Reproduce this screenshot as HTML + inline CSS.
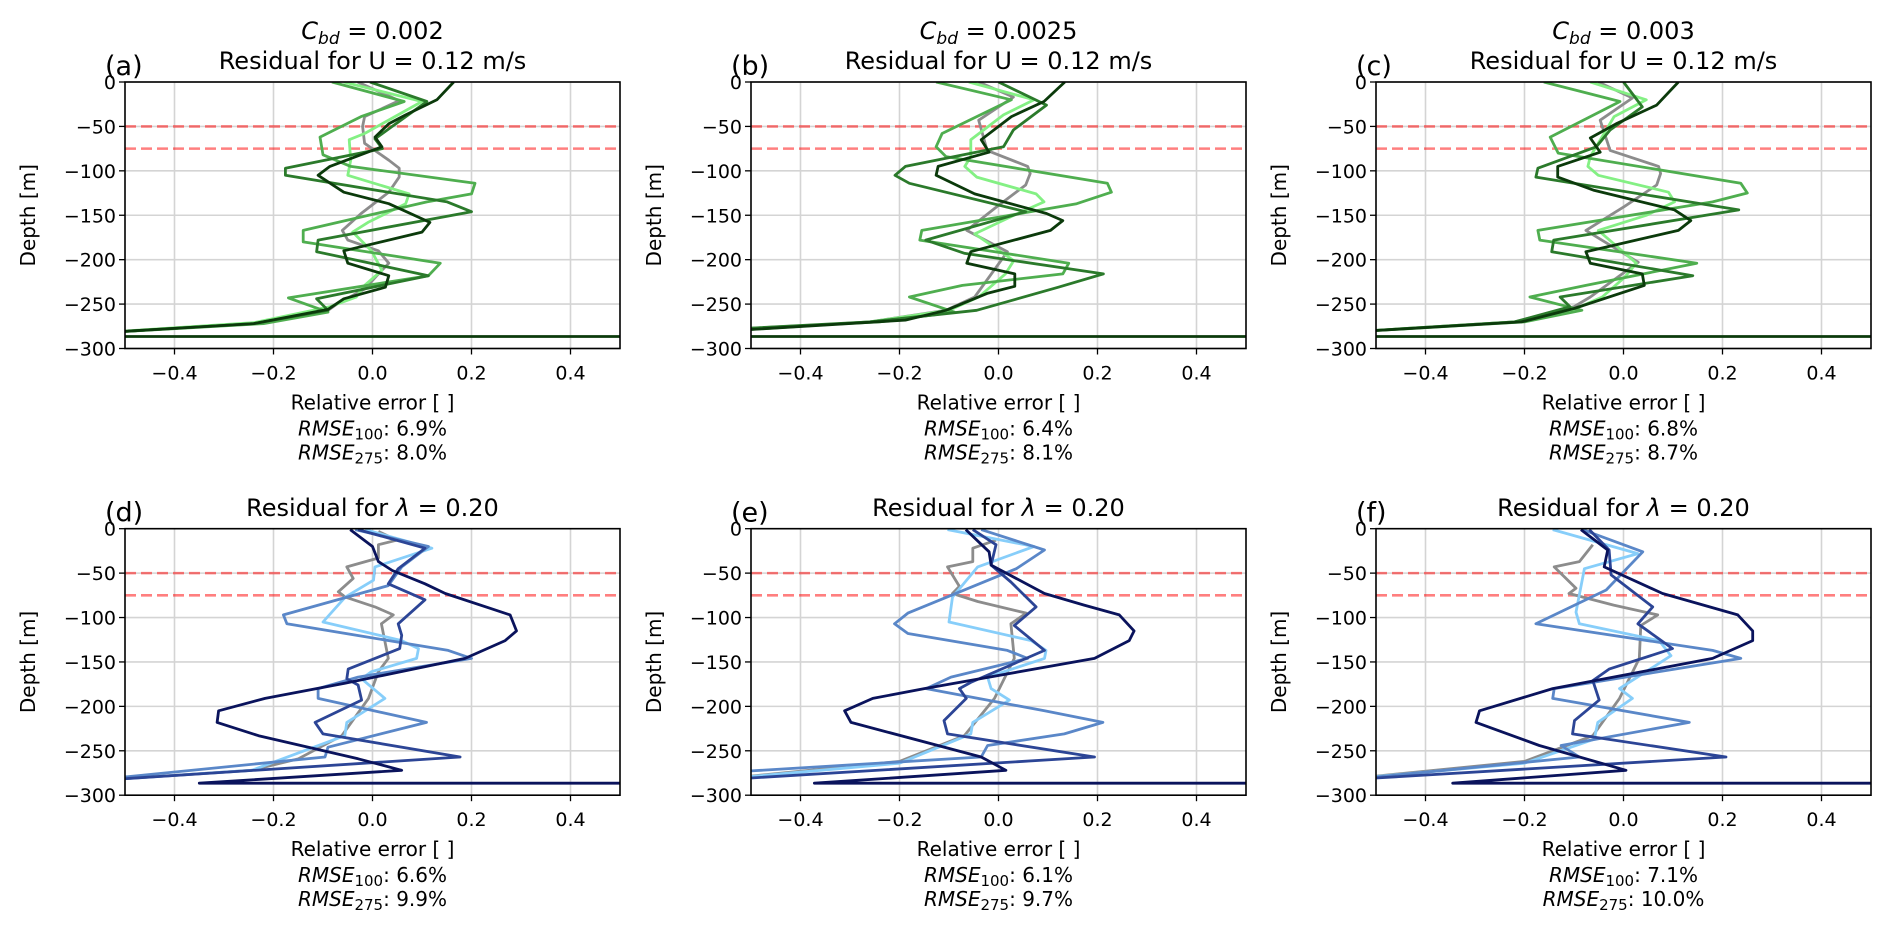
<!DOCTYPE html>
<html><head><meta charset="utf-8">
<style>
html,body{margin:0;padding:0;background:#fff;}
svg{display:block;font-family:"DejaVu Sans","Liberation Sans",sans-serif;}
</style></head>
<body>
<svg id="fig" width="1892" height="930" viewBox="0 0 1892 930" xmlns="http://www.w3.org/2000/svg"></svg>
<script>
// ---------- data ----------
const xTicks = [-0.4, -0.2, 0.0, 0.2, 0.4];
const yTicks = [0, -50, -100, -150, -200, -250, -300];
const refDepths = [-50, -75];
const panelLetters = ['(a)','(b)','(c)','(d)','(e)','(f)'];
const cbdValues = ['0.002','0.0025','0.003'];
const rmse100 = ['6.9','6.4','6.8','6.6','6.1','7.1'];
const rmse275 = ['8.0','8.1','8.7','9.9','9.7','10.0'];
const greenColors = ['#8c8c8c','#84f084','#4fae4f','#2b7a2b','#0b3a0b'];
const blueColors = ['#8c8c8c','#87cefa','#5a87c8','#2c4596','#0a135c'];

// series: [value, depth] pairs. order: gray, light, medium, dark, darkest
const panelA = [
 [[-0.03,0],[0.054,-21],[-0.016,-39],[-0.02,-50],[-0.016,-69],[0.033,-88],[0.054,-97],[0.054,-107],[0.033,-124],[-0.023,-148],[-0.061,-167],[-0.05,-178],[0.012,-190],[0.033,-204],[0.012,-216],[-0.016,-233],[-0.072,-250],[-0.09,-257],[-0.24,-272],[-0.6,-284]],
 [[-0.058,0],[0.1,-22],[-0.016,-58],[-0.047,-65],[-0.044,-88],[-0.05,-105],[0.074,-126],[0.067,-137],[-0.009,-158],[-0.04,-169],[-0.002,-190],[0.019,-212],[-0.016,-229],[-0.033,-242],[-0.086,-253],[-0.24,-271],[-0.6,-284]],
 [[-0.082,0],[0.064,-22],[-0.023,-39],[-0.106,-62],[-0.1,-82],[-0.044,-95],[0.207,-114],[0.2,-126],[0.11,-135],[-0.14,-167],[-0.14,-180],[0.137,-204],[0.113,-218],[-0.17,-243],[-0.09,-259],[-0.22,-272],[-0.6,-284]],
 [[-0.005,0],[0.11,-22],[0.047,-47],[0.005,-64],[0.02,-75],[-0.176,-97],[-0.176,-105],[0.151,-135],[0.2,-146],[-0.11,-178],[-0.113,-191],[0.113,-218],[-0.113,-244],[-0.09,-257],[-0.24,-272],[-0.6,-284]],
 [[0.164,0],[0.13,-20],[0.067,-37],[0.033,-47],[0.005,-62],[0.019,-73],[-0.086,-95],[-0.11,-105],[-0.058,-124],[0.033,-137],[0.116,-158],[0.1,-169],[-0.058,-190],[-0.05,-204],[0.033,-218],[0.026,-231],[-0.058,-244],[-0.09,-256],[-0.24,-272],[-0.6,-284],[-0.6,-286.5],[0.6,-286.5]]
];
const panelB = [
 [[-0.04,0],[0.03,-17],[-0.04,-43],[-0.023,-77],[0.059,-95],[0.064,-103],[0.055,-116],[-0.007,-142],[-0.064,-167],[0.018,-191],[-0.048,-242],[-0.106,-257],[-0.26,-270],[-0.6,-282]],
 [[-0.06,0],[0.072,-20],[0.01,-37],[-0.056,-65],[-0.056,-84],[-0.068,-95],[-0.044,-107],[0.076,-126],[0.092,-135],[0.039,-148],[-0.048,-171],[0.031,-201],[0.014,-216],[-0.04,-242],[-0.1,-257],[-0.26,-270],[-0.6,-282]],
 [[-0.126,0],[0.026,-20],[-0.114,-58],[-0.126,-73],[-0.106,-84],[0.22,-114],[0.228,-124],[0.158,-137],[-0.155,-167],[-0.159,-178],[0.142,-204],[0.13,-216],[-0.073,-229],[-0.18,-242],[-0.089,-259],[-0.24,-270],[-0.6,-280]],
 [[0.0,0],[0.097,-26],[0.03,-54],[0.01,-73],[-0.188,-95],[-0.209,-105],[-0.18,-114],[0.055,-146],[-0.147,-178],[-0.068,-193],[0.212,-216],[0.121,-231],[-0.044,-257],[-0.26,-270],[-0.6,-280]],
 [[0.134,0],[0.092,-22],[0.026,-39],[-0.035,-65],[-0.019,-79],[-0.122,-95],[-0.126,-105],[-0.048,-126],[0.097,-148],[0.13,-156],[0.105,-167],[-0.056,-191],[-0.064,-204],[0.033,-216],[0.033,-230],[-0.023,-238],[-0.106,-257],[-0.188,-268],[-0.6,-282],[-0.6,-286.5],[0.6,-286.5]]
];
const panelC = [
 [[-0.051,0],[0.018,-18],[-0.047,-43],[-0.027,-77],[0.071,-95],[0.075,-103],[0.067,-116],[0.002,-140],[-0.076,-167],[0.03,-203],[-0.067,-242],[-0.1,-253],[-0.22,-270],[-0.6,-283]],
 [[-0.067,0],[0.046,-20],[-0.019,-39],[-0.067,-84],[-0.072,-95],[-0.051,-105],[0.091,-124],[0.103,-135],[0.046,-150],[-0.051,-167],[0.026,-204],[0.002,-220],[-0.043,-242],[-0.1,-256],[-0.22,-270],[-0.6,-283]],
 [[-0.161,0],[-0.007,-22],[-0.148,-62],[-0.132,-80],[0.237,-114],[0.25,-125],[0.18,-135],[-0.173,-167],[-0.169,-178],[0.148,-204],[-0.076,-229],[-0.189,-242],[-0.084,-257],[-0.2,-270],[-0.6,-283]],
 [[0.0,0],[0.038,-28],[-0.027,-54],[-0.055,-73],[-0.173,-97],[-0.177,-107],[0.233,-144],[-0.141,-178],[-0.145,-191],[0.14,-218],[-0.128,-242],[-0.108,-253],[-0.22,-270],[-0.6,-283]],
 [[0.111,0],[0.067,-26],[-0.015,-47],[-0.067,-63],[-0.047,-79],[-0.133,-95],[-0.133,-107],[-0.059,-122],[0.103,-144],[0.136,-156],[0.111,-167],[-0.076,-191],[-0.067,-204],[0.038,-216],[0.042,-229],[-0.1,-255],[-0.206,-270],[-0.6,-283],[-0.6,-286.5],[0.6,-286.5]]
];
const panelD = [
 [[0.012,-3],[0.049,-13],[0.012,-18],[0.012,-33],[-0.052,-43],[-0.039,-56],[-0.069,-71],[-0.055,-77],[0.005,-88],[0.042,-97],[0.018,-107],[0.032,-146],[0.012,-161],[-0.008,-191],[-0.062,-233],[-0.15,-259],[-0.244,-272],[-0.6,-285]],
 [[-0.015,-1],[0.12,-22],[0.005,-43],[0.002,-58],[-0.055,-77],[-0.1,-105],[0.059,-126],[0.093,-135],[0.089,-146],[-0.002,-161],[-0.022,-169],[0.025,-191],[-0.052,-218],[-0.056,-233],[-0.244,-272],[-0.6,-285]],
 [[-0.035,-1],[0.113,-20],[0.059,-43],[0.032,-64],[-0.18,-97],[-0.173,-107],[0.153,-137],[0.2,-146],[-0.029,-167],[-0.11,-180],[-0.11,-191],[0.109,-218],[-0.09,-246],[-0.096,-257],[-0.6,-285]],
 [[-0.029,-1],[0.106,-22],[0.052,-45],[0.032,-62],[0.106,-80],[0.052,-107],[0.059,-120],[0.055,-135],[-0.049,-158],[-0.052,-169],[-0.029,-176],[-0.022,-193],[-0.116,-218],[-0.1,-231],[0.177,-257],[-0.6,-285]],
 [[-0.045,-1],[0.0,-20],[0.012,-37],[0.04,-47],[0.106,-62],[0.147,-73],[0.24,-90],[0.278,-97],[0.291,-115],[0.268,-126],[0.187,-146],[-0.056,-174],[-0.217,-191],[-0.311,-205],[-0.314,-218],[-0.23,-233],[-0.029,-259],[0.059,-272],[-0.35,-286.5],[0.6,-286.5]]
];
const panelE = [
 [[-0.005,-13],[-0.052,-22],[-0.052,-37],[-0.103,-43],[-0.079,-65],[-0.093,-73],[-0.042,-82],[0.056,-95],[0.025,-107],[0.032,-146],[-0.008,-191],[-0.069,-233],[-0.2,-262],[-0.6,-284]],
 [[-0.103,-1],[0.072,-20],[-0.042,-43],[-0.093,-77],[-0.1,-105],[0.066,-126],[0.096,-137],[0.093,-146],[-0.022,-167],[-0.015,-180],[0.022,-193],[-0.052,-218],[-0.056,-231],[-0.2,-264],[-0.6,-284]],
 [[-0.035,-1],[0.093,-24],[0.036,-45],[-0.183,-95],[-0.21,-107],[-0.183,-118],[0.018,-137],[0.059,-146],[-0.096,-167],[-0.146,-180],[0.093,-205],[0.211,-218],[0.133,-231],[-0.022,-244],[-0.035,-257],[-0.6,-276]],
 [[-0.052,-1],[-0.005,-18],[-0.015,-41],[0.025,-60],[0.076,-88],[0.032,-109],[0.093,-137],[-0.056,-173],[-0.079,-180],[-0.065,-191],[-0.11,-216],[-0.103,-231],[0.194,-257],[-0.6,-284]],
 [[-0.066,-1],[-0.019,-26],[-0.015,-41],[0.093,-73],[0.173,-86],[0.244,-97],[0.274,-115],[0.264,-126],[0.194,-146],[-0.15,-180],[-0.254,-191],[-0.311,-205],[-0.298,-218],[-0.035,-257],[0.015,-272],[-0.372,-286.5],[0.6,-286.5]]
];
const panelF = [
 [[-0.062,-18],[-0.089,-37],[-0.14,-43],[-0.096,-67],[-0.11,-73],[-0.02,-86],[0.069,-97],[0.035,-109],[0.032,-146],[-0.008,-191],[-0.062,-233],[-0.2,-262],[-0.6,-284]],
 [[-0.143,-1],[0.029,-28],[-0.079,-45],[-0.096,-94],[-0.089,-107],[0.072,-126],[0.096,-143],[-0.008,-180],[0.018,-191],[-0.052,-218],[-0.059,-237],[-0.2,-264],[-0.6,-284]],
 [[-0.083,-1],[0.039,-26],[-0.035,-69],[-0.177,-107],[0.18,-137],[0.237,-146],[-0.14,-180],[-0.143,-191],[0.133,-218],[-0.126,-244],[-0.089,-257],[-0.6,-285]],
 [[-0.069,-1],[-0.029,-24],[-0.025,-52],[0.059,-88],[0.029,-107],[0.099,-135],[-0.029,-158],[-0.062,-171],[-0.049,-193],[-0.099,-216],[-0.103,-231],[0.207,-257],[-0.6,-284]],
 [[-0.086,-1],[-0.032,-24],[-0.039,-43],[0.079,-73],[0.231,-97],[0.261,-115],[0.261,-126],[0.18,-146],[-0.143,-180],[-0.291,-205],[-0.298,-218],[-0.17,-244],[0.005,-272],[-0.345,-286.5],[0.6,-286.5]]
];
const allPanels = [panelA, panelB, panelC, panelD, panelE, panelF];

// ---------- layout ----------
const NS = 'http://www.w3.org/2000/svg';
const svg = document.getElementById('fig');
const colX = [125, 751, 1376];
const rowY = [82, 528.7];
const W = 495, H = 266.5;
function mk(tag, attrs, parent){ const e=document.createElementNS(NS,tag); for(const k in attrs) e.setAttribute(k,attrs[k]); (parent||svg).appendChild(e); return e; }

allPanels.forEach((series, p) => {
  const col = p % 3, row = Math.floor(p / 3);
  const x0 = colX[col], y0 = rowY[row];
  const xs = v => x0 + (v + 0.5) / 1.0 * W;
  const ys = d => y0 + (-d) / 300 * H;
  const g = mk('g', {});
  
  
  const cid = 'clip' + p;
  const cp = mk('clipPath', {id: cid}, g);
  mk('rect', {x: x0, y: y0, width: W, height: H}, cp);
  xTicks.forEach(t => {
    const l = mk('line', {x1: xs(t), x2: xs(t), y1: y0, y2: y0 + H, stroke: '#d4d4d4', 'stroke-width': 1.6}, g);
    
    
  });
  yTicks.forEach(t => {
    const l = mk('line', {x1: x0, x2: x0 + W, y1: ys(t), y2: ys(t), stroke: '#d4d4d4', 'stroke-width': 1.6}, g);
    
    
  });
  refDepths.forEach(d => {
    const l = mk('line', {x1: x0, x2: x0 + W, y1: ys(d), y2: ys(d), stroke: 'rgba(255,0,0,0.5)', 'stroke-width': 2.6, 'stroke-dasharray': '11,5'}, g);
    
    
  });
  const cols = row === 0 ? greenColors : blueColors;
  const sg = mk('g', {'clip-path': 'url(#' + cid + ')'}, g);
  series.forEach((pts, i) => {
    const path = mk('polyline', {points: pts.map(q => xs(q[0]).toFixed(1) + ',' + ys(q[1]).toFixed(1)).join(' '), fill: 'none', stroke: cols[i], 'stroke-width': 2.8, 'stroke-linejoin': 'round'}, sg);
    
    
  });
  mk('rect', {x: x0, y: y0, width: W, height: H, fill: 'none', stroke: '#000', 'stroke-width': 1.6}, g);
  xTicks.forEach(t => {
    mk('line', {x1: xs(t), x2: xs(t), y1: y0 + H, y2: y0 + H + 6, stroke: '#000', 'stroke-width': 1.3}, g);
    const tx = mk('text', {x: xs(t), y: y0 + H + 31, 'font-size': 19, 'text-anchor': 'middle'}, g);
    tx.textContent = (t < 0 ? '\u2212' : '') + Math.abs(t).toFixed(1);
    
    
  });
  yTicks.forEach(t => {
    mk('line', {x1: x0 - 6, x2: x0, y1: ys(t), y2: ys(t), stroke: '#000', 'stroke-width': 1.3}, g);
    const tx = mk('text', {x: x0 - 9, y: ys(t) + 7, 'font-size': 19, 'text-anchor': 'end'}, g);
    tx.textContent = (t < 0 ? '\u2212' : '') + Math.abs(t);
    
    
  });
  const cx = x0 + W / 2;
  const yl = mk('text', {x: 0, y: 0, 'font-size': 20, 'text-anchor': 'middle', transform: 'translate(' + (x0 - 90) + ',' + (y0 + H / 2) + ') rotate(-90)'}, g);
  yl.textContent = 'Depth [m]';
  
  
  const xl = mk('text', {x: cx, y: y0 + H + 61, 'font-size': 20, 'text-anchor': 'middle'}, g);
  xl.textContent = 'Relative error [ ]';
  
  
  [[rmse100[p], '100', 87], [rmse275[p], '275', 111]].forEach(r => {
    const t = mk('text', {x: cx, y: y0 + H + r[2], 'font-size': 20, 'text-anchor': 'middle'}, g);
    t.innerHTML = '<tspan font-style="italic">RMSE</tspan><tspan font-size="15" dy="4">' + r[1] + '</tspan><tspan dy="-4">: ' + r[0] + '%</tspan>';
    
    
  });
  const lt = mk('text', {x: x0 - 20, y: y0 - 7, 'font-size': 27}, g);
  lt.textContent = panelLetters[p];
  
  
  if (row === 0) {
    const t1 = mk('text', {x: cx, y: 39, 'font-size': 24, 'text-anchor': 'middle'}, g);
    t1.innerHTML = '<tspan font-style="italic">C</tspan><tspan font-style="italic" font-size="17" dy="5">bd</tspan><tspan dy="-5"> = ' + cbdValues[col] + '</tspan>';
    
    
    const t2 = mk('text', {x: cx, y: 69, 'font-size': 24, 'text-anchor': 'middle'}, g);
    t2.textContent = 'Residual for U = 0.12 m/s';
    
    
  } else {
    const t2 = mk('text', {x: cx, y: 516, 'font-size': 24, 'text-anchor': 'middle'}, g);
    t2.innerHTML = 'Residual for <tspan font-style="italic">\u03bb</tspan> = 0.20';
    
    
  }
});
</script>
</body></html>
